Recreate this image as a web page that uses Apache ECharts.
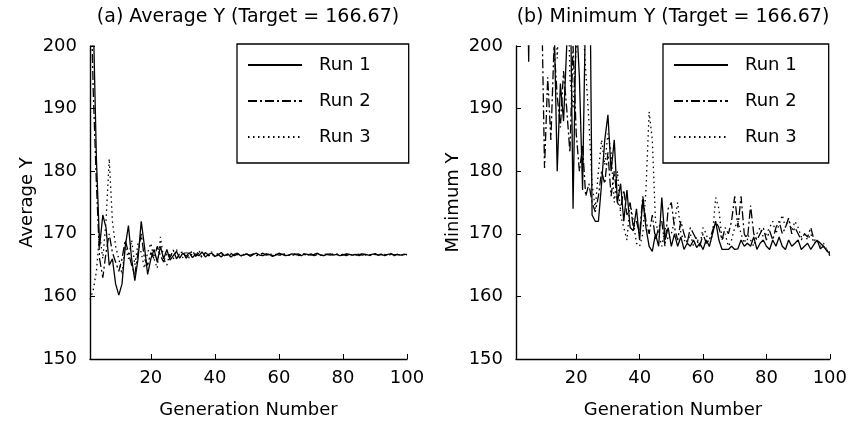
<!DOCTYPE html>
<html>
<head>
<meta charset="utf-8">
<script src="https://cdn.jsdelivr.net/npm/echarts@6/dist/echarts.min.js"></script>
<style>html,body{margin:0;padding:0;background:#fff}#c{width:850px;height:424px}</style>
</head>
<body>
<div id="c"></div>
<script>
var generations = [];
for (var i = 1; i <= 100; i++) generations.push(i);
var xTickValues = [20, 40, 60, 80, 100];
var seriesNames = ['Run 1', 'Run 2', 'Run 3'];
var titleA = '(a) Average Y (Target = 166.67)';
var titleB = '(b) Minimum Y (Target = 166.67)';

var avgRun1 = [240,205,182,168,173,171,165,166,162,160.2,162,168,171.3,166,162.5,166,172,168,163.5,166,167.5,165.5,168,166,167.5,
165.8,166.5,167.2,166.1,166.9,166.4,167.0,166.2,166.8,166.5,167.1,166.3,166.7,166.9,166.4,166.6,167.0,166.5,166.8,166.3,166.7,166.9,166.5,166.6,166.8,
166.4,166.7,166.9,166.6,166.5,166.8,166.7,166.4,166.6,166.9,166.7,166.5,166.6,166.8,166.7,166.6,166.5,166.8,166.7,166.6,166.7,166.9,166.6,166.5,166.7,
166.8,166.6,166.7,166.5,166.6,166.8,166.7,166.6,166.7,166.5,166.8,166.7,166.6,166.7,166.8,166.6,166.7,166.5,166.7,166.8,166.6,166.7,166.6,166.7,166.7];
var avgRun2 = [215,193,178,166,163,167,170,167,165.5,164,166,169,167,165,163.5,167,170,166,165,167,166,168,166.5,165.5,167,
166.2,167.4,166.0,166.8,167.2,166.1,166.7,167.3,166.4,166.9,166.2,167.0,166.6,166.4,166.9,166.7,166.3,166.8,166.6,166.9,166.5,166.7,166.4,166.8,166.7,
166.6,166.8,166.5,166.7,166.9,166.6,166.7,166.5,166.8,166.6,166.7,166.8,166.6,166.5,166.7,166.8,166.6,166.7,166.6,166.8,166.5,166.7,166.6,166.8,166.7,
166.6,166.7,166.8,166.6,166.7,166.5,166.7,166.6,166.8,166.7,166.6,166.7,166.5,166.7,166.8,166.6,166.7,166.6,166.7,166.8,166.6,166.7,166.5,166.7,166.6];
var avgRun3 = [159.5,161,164,170,166,172,182,172,168,166,163.5,168,166,169,165,168.5,167,164.5,167,168.5,166,164.5,169.5,166,165,
167.0,166.0,167.5,166.5,166.2,167.3,166.1,166.9,166.4,167.4,166.2,166.8,166.5,167.1,166.3,166.8,166.6,166.9,166.4,166.7,166.5,166.9,166.6,166.7,166.8,
166.5,166.7,166.6,166.8,166.5,166.7,166.9,166.6,166.7,166.5,166.8,166.6,166.7,166.6,166.8,166.5,166.7,166.8,166.6,166.7,166.6,166.8,166.7,166.5,166.7,
166.6,166.8,166.7,166.6,166.7,166.8,166.5,166.7,166.6,166.7,166.8,166.6,166.7,166.5,166.7,166.6,166.8,166.7,166.6,166.7,166.5,166.7,166.6,166.7,166.6];

var minRun1 = [260,245,250,235,197.5,240,255,230,225,215,210,220,205,180,194,188,200,215,174,205,195,177,208,230,173,
172,172,178,185,189,180,185,175,178,172,177,171,170.5,174,169,175.5,171,168,167.2,170,168,175.8,169,171,168,
170,168,169.5,167.5,168.5,168,169,167.8,168.5,167.5,169,168,170,172,169,167.5,167.5,167.5,168,167.5,167.6,169,168,168.5,168,
169.5,167.5,168.5,169,168,167.5,169,168,169.5,168,167.5,169,168,168.5,169,167.5,168,168.5,167.5,168.3,169,167.6,168,167.3,166.8];
var minRun2 = [250,240,260,245,255,235,240,228,210,180.5,195,185,200,192,187,196,190,183,200,186,180,184,176,178,175,
173.5,176,180,178,183,176,180,175,174,177,173,175,171,172,170,176,172,170,173,169,171,172,168,174,175,
171,169,172,170,168.5,171,170,169,168,170,168.5,169,170.5,172,171,169,171,170,172,176,171,176,170,169,174.5,
170,169,170,171,169,170.5,169,171,172,170,171,172.5,170,171,170,169,170,169.5,171,169,169,168.5,168,167.5,166.5];
var minRun3 = [270,255,250,265,240,250,245,238,230,210,222,205,215,198,210,203,220,195,190,200,212,205,196,188,178,
174,180,185,181,186,183,175,180,173,171,169,175,172,168.5,168,170,177,189.5,185,172,170,168,171,169,170,
172,175,170,169,168.5,170,168,169.5,168,171,170,168,170,175.8,174,169,170,168,169,171,172,170,168.5,170,169,
168,170,171,169.5,170,171,172,170,171.5,173,171,172.5,170.5,172,171,169.5,170,169,170,168.5,169,168,168.5,167.5,167];

var FONT = 'DejaVu Sans';
var FS = 18;
var TXT = {color: '#000', fontFamily: FONT, fontSize: FS};
var lineTypes = ['solid', [9, 3, 2, 3], [1.5, 3.5]];

function pairs(arr) { return arr.map(function (v, i) { return [generations[i], v]; }); }

function mkX(idx) {
  return {
    type: 'value', gridIndex: idx, min: 1, max: 100,
    name: 'Generation Number', nameLocation: 'middle', nameGap: 42,
    nameTextStyle: TXT,
    axisLine: {show: true, onZero: false, lineStyle: {color: '#000', width: 1.4}},
    axisTick: {show: true, inside: true, length: 5, customValues: xTickValues, lineStyle: {color: '#000'}},
    axisLabel: Object.assign({customValues: xTickValues, margin: 10}, TXT),
    splitLine: {show: false}
  };
}
function mkY(idx, name) {
  return {
    type: 'value', gridIndex: idx, min: 150, max: 200, interval: 10,
    name: name, nameLocation: 'middle', nameGap: 54, nameRotate: 90,
    nameTextStyle: TXT,
    axisLine: {show: true, onZero: false, lineStyle: {color: '#000', width: 1.4}},
    axisTick: {show: true, inside: true, length: 5, lineStyle: {color: '#000'}},
    axisLabel: Object.assign({margin: 13}, TXT),
    splitLine: {show: false}
  };
}
function mkSeries(data, k, idx) {
  return {
    type: 'line', name: seriesNames[k], xAxisIndex: idx, yAxisIndex: idx,
    data: pairs(data), symbol: 'none', clip: true, animation: false,
    lineStyle: {color: '#000', width: 1.3, type: lineTypes[k]},
    itemStyle: {color: '#000'}
  };
}
function mkLegend(left, padRight) {
  return {
    left: left, top: 44, orient: 'vertical', itemWidth: 54, itemHeight: 18, itemGap: 18,
    padding: [12, padRight, 17, 10], borderColor: '#000', borderWidth: 1.3, backgroundColor: '#fff',
    itemStyle: {opacity: 0},
    textStyle: Object.assign({padding: [0, 0, 0, 12]}, TXT),
    data: seriesNames.map(function (n) { return {name: n}; }),
    selectedMode: false
  };
}

var chart = echarts.init(document.getElementById('c'), null, {renderer: 'canvas'});
var series = [
  mkSeries(avgRun1, 0, 0), mkSeries(avgRun2, 1, 0), mkSeries(avgRun3, 2, 0),
  mkSeries(minRun1, 0, 1), mkSeries(minRun2, 1, 1), mkSeries(minRun3, 2, 1)
];
chart.setOption({
  animation: false,
  backgroundColor: '#fff',
  grid: [
    {left: 90, top: 46, width: 317, height: 317},
    {left: 516, top: 46, width: 314, height: 317}
  ],
  xAxis: [mkX(0), mkX(1)],
  yAxis: [mkY(0, 'Average Y'), mkY(1, 'Minimum Y')],
  legend: [mkLegend(237, 38), mkLegend(663, 32)],
  graphic: [
    {type: 'text', x: 248, y: 8, style: {text: titleA, textAlign: 'center', fill: '#000', font: '19px "' + FONT + '"'}},
    {type: 'text', x: 673, y: 8, style: {text: titleB, textAlign: 'center', fill: '#000', font: '19px "' + FONT + '"'}}
  ],
  series: series
});
</script>
</body>
</html>
